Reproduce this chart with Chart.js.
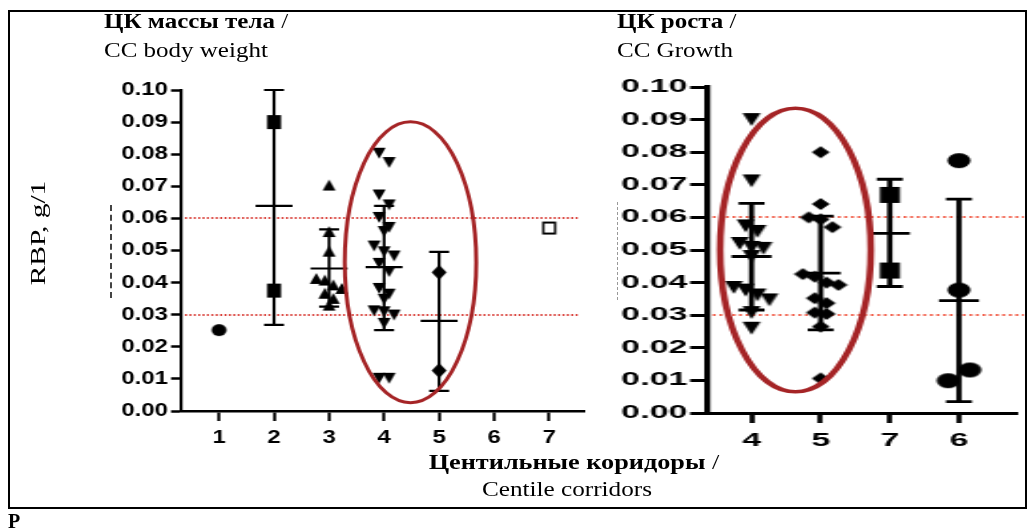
<!DOCTYPE html>
<html>
<head>
<meta charset="utf-8">
<script src="https://cdn.jsdelivr.net/npm/chart.js@4.4.1/dist/chart.umd.min.js"></script>
<style>
  html, body { margin: 0; padding: 0; background: #fff; }
  body { width: 1030px; height: 531px; position: relative; overflow: hidden; font-family: 'Liberation Serif', 'Times New Roman', serif; color: #000; }
  canvas { position: absolute; top: 0; transform-origin: 0 0; }
  .t { position: absolute; white-space: nowrap; transform-origin: 0 0; font-size: 21px; line-height: 21px; }
  .b { font-weight: bold; }
  #frame { position: absolute; left: 8px; top: 10px; width: 1015px; height: 495px; border: 2px solid #000; }
  .ghost { position: absolute; width: 0; }
</style>
</head>
<body>
<div id="frame"></div>
<canvas id="bw" width="451" height="531" style="left:0;transform:scaleX(1.33)"></canvas>
<canvas id="gr" width="271" height="531" style="left:520px;transform:scaleX(1.88)"></canvas>

<div class="t" style="left:104px;top:10.7px;transform:scaleX(1.19)"><span class="b">ЦК массы тела</span> /</div>
<div class="t" style="left:104px;top:39.7px;transform:scaleX(1.19)">CC body weight</div>
<div class="t" style="left:617px;top:10.7px;transform:scaleX(1.19)"><span class="b">ЦК роста</span> /</div>
<div class="t" style="left:617px;top:39.7px;transform:scaleX(1.19)">CC Growth</div>
<div class="t" style="left:574px;top:452.4px;transform:scaleX(1.25) translateX(-50%)"><span class="b">Центильные коридоры</span> /</div>
<div class="t" style="left:567px;top:479.4px;transform:scaleX(1.2) translateX(-50%)">Centile corridors</div>
<div class="t" style="left:38px;top:233px;transform:translate(-50%,-50%) rotate(-90deg) scaleX(1.4);transform-origin:50% 50%">RBP, g/1</div>
<div class="t b" style="left:8px;top:511px;font-size:20px;line-height:20px">P</div>
<div class="ghost" style="left:110px;top:205px;height:93px;border-left:2px dashed #444"></div>
<div class="ghost" style="left:617px;top:202px;height:98px;border-left:1px dashed #999"></div>

<script>
// ---- RBP values (g/l) by centile corridor of body weight ----
const bwGroups = ['1', '2', '3', '4', '5', '6', '7'];
const bwG1 = [0.0252];
const bwG2 = [0.0900, 0.0375];
const bwG3 = [0.0704, 0.0559, 0.0498, 0.0413, 0.0408, 0.0393, 0.0382, 0.0367, 0.0351, 0.0330];
const bwG4 = [0.0803, 0.0774, 0.0673, 0.0642, 0.0603, 0.0572, 0.0559, 0.0514, 0.0496, 0.0483, 0.0460,
              0.0434, 0.0382, 0.0364, 0.0348, 0.0312, 0.0309, 0.0299, 0.0273, 0.0102, 0.0102];
const bwG5 = [0.0432, 0.0126];
const bwG7 = [0.0570];
const bwMean = [null, 0.0639, 0.0444, 0.0448, 0.0281, null, null];
const bwSdLow = [null, 0.0268, 0.0325, 0.0252, 0.0063, null, null];
const bwSdHigh = [null, 0.1000, 0.0566, 0.0639, 0.0496, null, null];

// ---- RBP values (g/l) by centile corridor of growth ----
const grGroups = ['4', '5', '7', '6'];
const grG4 = [0.0900, 0.0712, 0.0574, 0.0557, 0.0520, 0.0508, 0.0505, 0.0480, 0.0385, 0.0377, 0.0362, 0.0347, 0.0308, 0.0260];
const grG5 = [0.0800, 0.0641, 0.0600, 0.0594, 0.0570, 0.0426, 0.0418, 0.0400, 0.0393, 0.0352, 0.0337, 0.0308, 0.0304, 0.0265, 0.0106];
const grG7 = [0.0669, 0.0437];
const grG6 = [0.0774, 0.0377, 0.0099, 0.0132];
const grMean = [0.0480, 0.0429, 0.0551, 0.0345];
const grSdLow = [0.0316, 0.0255, 0.0388, 0.0035];
const grSdHigh = [0.0643, 0.0604, 0.0717, 0.0656];

// reference range and y axis ticks
const normBounds = [0.03, 0.06];
const yTickValues = [0, 0.01, 0.02, 0.03, 0.04, 0.05, 0.06, 0.07, 0.08, 0.09, 0.10];
const yTickLabels = ['0.00', '0.01', '0.02', '0.03', '0.04', '0.05', '0.06', '0.07', '0.08', '0.09', '0.10'];

Chart.defaults.font.family = "'Liberation Sans', Arial, sans-serif";
Chart.defaults.font.size = 18;
Chart.defaults.font.weight = 'bold';
Chart.defaults.color = '#000';

// Filled marker drawn into a small canvas; w is the on-screen width, divided by the canvas stretch
function marker(shape, w, h, sx) {
  const cw = w / sx;
  const c = document.createElement('canvas');
  const W = Math.ceil(cw) + 2, H = Math.ceil(h) + 2;
  c.width = W; c.height = H;
  const g = c.getContext('2d');
  g.fillStyle = '#000';
  const l = (W - cw) / 2, t = (H - h) / 2, r = l + cw, b = t + h, mx = W / 2, my = H / 2;
  g.beginPath();
  if (shape === 'circle') g.ellipse(mx, my, cw / 2, h / 2, 0, 0, Math.PI * 2);
  else if (shape === 'square' || shape === 'squareOpen') g.rect(l, t, cw, h);
  else if (shape === 'triUp') { g.moveTo(mx, t); g.lineTo(r, b); g.lineTo(l, b); g.closePath(); }
  else if (shape === 'triDown') { g.moveTo(l, t); g.lineTo(r, t); g.lineTo(mx, b); g.closePath(); }
  else if (shape === 'diamond') { g.moveTo(mx, t); g.lineTo(r, my); g.lineTo(mx, b); g.lineTo(l, my); g.closePath(); }
  g.fill();
  if (shape === 'squareOpen') {
    const bx = 2 / sx, by = 2;
    g.clearRect(l + bx, t + by, cw - 2 * bx, h - 2 * by);
  }
  return c;
}

// Scatter-dot layout: consecutive values closer than one bin share a row and are spread symmetrically
function swarm(values, center, spreadX, binSize) {
  const rows = [];
  values.forEach(v => {
    const row = rows[rows.length - 1];
    if (row && Math.abs(row[0] - v) < binSize) row.push(v); else rows.push([v]);
  });
  const pts = [];
  rows.forEach(row => row.forEach((v, j) => pts.push({ x: center + (j - (row.length - 1) / 2) * spreadX, y: v })));
  return pts;
}

// Reference lines, mean ± SD bars and the highlighting ellipse
const overlay = {
  id: 'overlay',
  beforeDatasetsDraw(chart, args, o) {
    const { ctx, chartArea: a, scales: { y } } = chart;
    ctx.save();
    ctx.strokeStyle = o.refColor;
    ctx.lineWidth = o.refWidth;
    ctx.setLineDash(o.refDash);
    for (const v of normBounds) {
      const py = Math.round(y.getPixelForValue(v));
      ctx.beginPath();
      ctx.moveTo(a.left + 3, py);
      ctx.lineTo(a.right + o.refExtra, py);
      ctx.stroke();
    }
    ctx.restore();
  },
  afterDatasetsDraw(chart, args, o) {
    const { ctx, scales: { x, y } } = chart;
    ctx.save();
    ctx.strokeStyle = '#000';
    ctx.lineWidth = o.barWidth;
    o.mean.forEach((m, i) => {
      if (m === null) return;
      const px = x.getPixelForValue(o.pos[i]);
      const yl = y.getPixelForValue(o.low[i]), yh = y.getPixelForValue(o.high[i]), ym = y.getPixelForValue(m);
      ctx.beginPath();
      ctx.moveTo(px, yl); ctx.lineTo(px, yh);
      ctx.moveTo(px - o.capW / 2, yl); ctx.lineTo(px + o.capW / 2, yl);
      ctx.moveTo(px - o.capW / 2, yh); ctx.lineTo(px + o.capW / 2, yh);
      ctx.moveTo(px - o.meanW / 2, ym); ctx.lineTo(px + o.meanW / 2, ym);
      ctx.stroke();
    });
    const e = o.ellipse;
    const cx = x.getPixelForValue(e.cx), cy = y.getPixelForValue(e.cy);
    const rx = x.getPixelForValue(e.cx + e.rx) - cx, ry = cy - y.getPixelForValue(e.cy + e.ry);
    ctx.strokeStyle = o.ellipseColor;
    ctx.lineWidth = o.ellipseWidth;
    ctx.beginPath();
    ctx.ellipse(cx, cy, rx, ry, 0, 0, Math.PI * 2);
    ctx.stroke();
    ctx.restore();
  }
};

function ds(points, style) {
  return { data: points, pointStyle: style, pointRadius: 6, pointHoverRadius: 6, showLine: false };
}

function yScale(width, tickLen, tickW, borderW, pad) {
  return {
    type: 'linear', min: 0, max: 0.1,
    afterFit: s => { s.width = width; },
    afterBuildTicks: s => { s.ticks = yTickValues.map(v => ({ value: v })); },
    ticks: { padding: pad, autoSkip: false, callback: (v, i) => yTickLabels[i] },
    grid: { drawOnChartArea: false, drawTicks: true, tickLength: tickLen, tickWidth: tickW, tickColor: '#000' },
    border: { display: true, color: '#000', width: borderW }
  };
}

function xScale(min, max, labels, first, height, tickW, borderW, pad) {
  return {
    type: 'linear', min, max,
    afterFit: s => { s.height = height; },
    afterBuildTicks: s => { s.ticks = labels.map((g, i) => ({ value: first + i })); },
    ticks: { padding: pad, autoSkip: false, maxRotation: 0, callback: (v, i) => labels[i] },
    grid: { drawOnChartArea: false, drawTicks: true, tickLength: 10, tickWidth: tickW, tickColor: '#000' },
    border: { display: true, color: '#000', width: borderW }
  };
}

// ---- body weight chart (canvas stretched 1.33x) ----
const sL = 1.33, stepL = 55, binL = 0.0034;
new Chart(document.getElementById('bw'), {
  type: 'scatter',
  data: {
    datasets: [
      ds(swarm(bwG1, 1, 10 / stepL, binL), marker('circle', 15, 12, sL)),
      ds(swarm(bwG2, 2, 10 / stepL, binL), marker('square', 14, 14, sL)),
      ds(swarm(bwG3, 3, 8.5 / stepL, binL), marker('triUp', 13, 11, sL)),
      ds(swarm(bwG4, 4, 10 / stepL, binL), marker('triDown', 13, 11, sL)),
      ds(swarm(bwG5, 5, 10 / stepL, binL), marker('diamond', 15, 15, sL)),
      ds(swarm(bwG7, 7, 10 / stepL, binL), marker('squareOpen', 14, 13, sL))
    ]
  },
  options: {
    responsive: false, animation: false, events: [],
    layout: { padding: { top: 90, right: 11.2, left: 0, bottom: 0 } },
    scales: {
      x: xScale(0.31, 7.65, bwGroups, 1, 120, 2.25, 2.5, 6),
      y: yScale(136.1, 7.5, 2.5, 2.25, 2.3)
    },
    plugins: {
      legend: { display: false }, tooltip: { enabled: false },
      overlay: {
        refColor: '#d9403a', refWidth: 2, refDash: [1.5, 1.8], refExtra: -4,
        pos: [1, 2, 3, 4, 5, 6, 7], mean: bwMean, low: bwSdLow, high: bwSdHigh,
        barWidth: 2.2, meanW: 37 / sL, capW: 20 / sL,
        ellipse: { cx: 4.48, cy: 0.04635, rx: 1.195, ry: 0.04375 },
        ellipseColor: '#a52426', ellipseWidth: 3
      }
    }
  },
  plugins: [overlay]
});

// ---- growth chart (canvas stretched 1.88x) ----
const sR = 1.88, stepR = 70, binR = 0.0038;
new Chart(document.getElementById('gr'), {
  type: 'scatter',
  data: {
    datasets: [
      ds(swarm(grG4, 0, 12 / stepR, binR), marker('triDown', 18, 13, sR)),
      ds(swarm(grG5, 1, 12 / stepR, binR), marker('diamond', 18, 12, sR)),
      ds(swarm(grG7, 2, 14 / stepR, binR), marker('square', 20, 16, sR)),
      ds(swarm(grG6, 3, 22 / stepR, 0.0046), marker('circle', 23, 15, sR))
    ]
  },
  options: {
    responsive: false, animation: false, events: [],
    layout: { padding: { top: 87, right: 5.3, left: 0, bottom: 0 } },
    scales: {
      x: xScale(-0.643, 3.83, grGroups, 0, 118, 2.7, 3, 7),
      y: yScale(99.5, 9, 3, 3.2, 1.6)
    },
    plugins: {
      legend: { display: false }, tooltip: { enabled: false },
      overlay: {
        refColor: '#f26450', refWidth: 2.2, refDash: [1.6, 1.9], refExtra: 4,
        pos: [0, 1, 2, 3], mean: grMean, low: grSdLow, high: grSdHigh,
        barWidth: 2.8, meanW: 40 / sR, capW: 26 / sR,
        ellipse: { cx: 0.635, cy: 0.050, rx: 1.09, ry: 0.0435 },
        ellipseColor: '#a52426', ellipseWidth: 3.6
      }
    }
  },
  plugins: [overlay]
});
</script>
</body>
</html>
